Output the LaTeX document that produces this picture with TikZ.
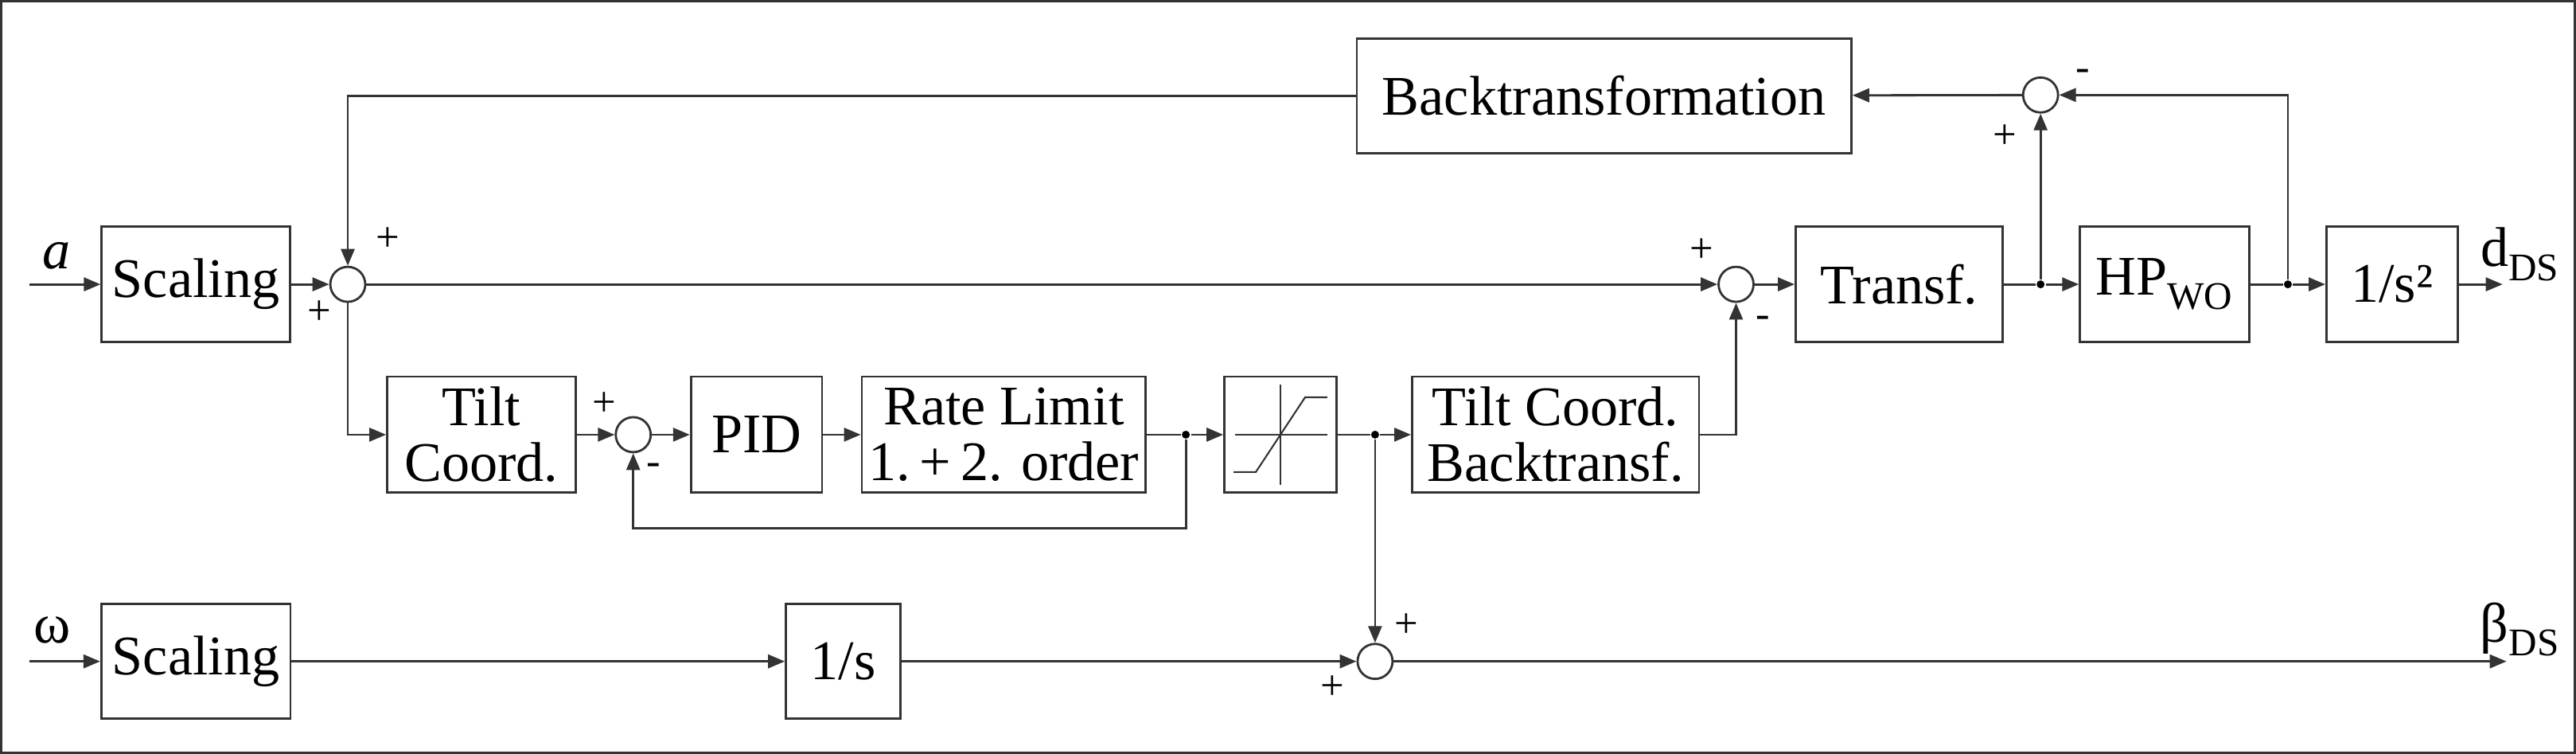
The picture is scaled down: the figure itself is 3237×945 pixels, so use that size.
\documentclass[tikz,border=0pt]{standalone}
\usepackage{fontspec}
\setmainfont{Liberation Serif}
\usetikzlibrary{arrows.meta}
\tikzset{
  every path/.style={draw=black!80,line width=1.6pt},
  box/.style n args={2}{draw,rectangle,minimum width=#1*0.02cm,minimum height=#2*0.02cm,inner sep=0pt,align=center,font=\fontsize{40}{40}\selectfont},
  sum/.style={draw,circle,minimum size=0.88cm,inner sep=0pt},
  dot/.style={circle,fill=black,draw=none,minimum size=0.2cm,inner sep=0pt},
  sg/.style={font=\fontsize{30}{30}\selectfont,inner sep=0pt},
  lab/.style={font=\fontsize{40}{40}\selectfont,inner sep=0pt},
  ar/.style={-{Triangle[length=0.42cm,width=0.34cm]}}}
\begin{document}
\begin{tikzpicture}[x=0.02cm,y=-0.02cm]
\useasboundingbox (0,0) rectangle (3237,945);
% boxes
\node[box={237}{145}] (sc1) at (245,356) {Scaling};
\node[box={237}{146}] (tilt) at (604,545) {Tilt\\Coord.};
\node[box={165}{146}] (pid) at (950,545) {PID};
\node[box={357}{146}] (rate) at (1261,545) {Rate Limit\\1.\,+\,2. order};
\node[box={141}{146}] (sat) at (1609,545) {};
\node[box={361}{146}] (tcb) at (1955,545) {Tilt Coord.\\Backtransf.};
\node[box={622}{144}] (back) at (2016,119) {Backtransformation};
\node[box={260}{145}] (transf) at (2387,356) {Transf.};
\node[box={213}{145}] (hp) at (2721,356) {HP\textsubscript{WO}};
\node[box={165}{145}] (s2) at (3007,356) {1/s²};
\node[box={238}{144}] (sc2) at (245,830) {Scaling};
\node[box={144}{144}] (int) at (1059,830) {1/s};
% saturation icon
\draw[line width=1.2pt] (1552,545) -- (1668,545);
\draw[line width=1.2pt] (1609,482) -- (1609,608);
\draw[line width=1.2pt] (1550,592) -- (1578,592) -- (1640,498) -- (1668,498);
% sums
\node[sum] (s1) at (436,356) {};
\node[sum] (s3) at (795,545) {};
\node[sum] (sm2) at (2182,356) {};
\node[sum] (st) at (2565,118) {};
\node[sum] (s4) at (1728,830) {};
% junctions
\node[dot] (j1) at (1490,545) {};
\node[dot] (j2) at (1728,545) {};
\node[dot] (j3) at (2565,356) {};
\node[dot] (j4) at (2876,356) {};
\coordinate (ina) at (36,356);
\coordinate (inw) at (36,830);
\coordinate (outd) at (3146,356);
\coordinate (outb) at (3151,830);
% connectors
\draw[ar] (ina) -- (sc1);
\draw[ar] (sc1) -- (s1);
\draw[ar] (s1) -- (sm2);
\draw[ar] (s1.south) |- (tilt.west);
\draw[ar] (tilt) -- (s3);
\draw[ar] (s3) -- (pid);
\draw[ar] (pid) -- (rate);
\draw (rate) -- (j1);
\draw[ar] (j1) -- (sat);
\draw[ar] (j1) -- (1490,663) -| (s3.south);
\draw (sat) -- (j2);
\draw[ar] (j2) -- (tcb);
\draw[ar] (j2) -- (s4.north);
\draw[ar] (tcb.east) -| (sm2.south);
\draw[ar] (sm2) -- (transf);
\draw (transf) -- (j3);
\draw[ar] (j3) -- (hp);
\draw[ar] (j3) -- (st.south);
\draw (hp) -- (j4);
\draw[ar] (j4) -- (s2);
\draw[ar] (j4) |- (st.east);
\draw[ar] (st) -- (back);
\draw[ar] (back.west) -| (s1.north);
\draw[ar] (s2) -- (outd);
\draw[ar] (inw) -- (sc2);
\draw[ar] (sc2) -- (int);
\draw[ar] (int) -- (s4);
\draw[ar] (s4) -- (outb);
% signs
\node[sg] at (486,299) {+};
\node[sg] at (400,392) {+};
\node[sg] at (759,507) {+};
\node[sg] at (821,588) {-};
\node[sg] at (2139,313) {+};
\node[sg] at (2216,403) {-};
\node[sg] at (2520,170) {+};
\node[sg] at (2618,93) {-};
\node[sg] at (1767,785) {+};
\node[sg] at (1674,863) {+};
% labels
\node[lab] at (70,320) {\textit{a}};
\node[lab] at (64,791) {ω};
\node[lab] at (3168,318) {d\textsubscript{DS}};
\node[lab] at (3168,790) {β\textsubscript{DS}};
\end{tikzpicture}
\end{document}
